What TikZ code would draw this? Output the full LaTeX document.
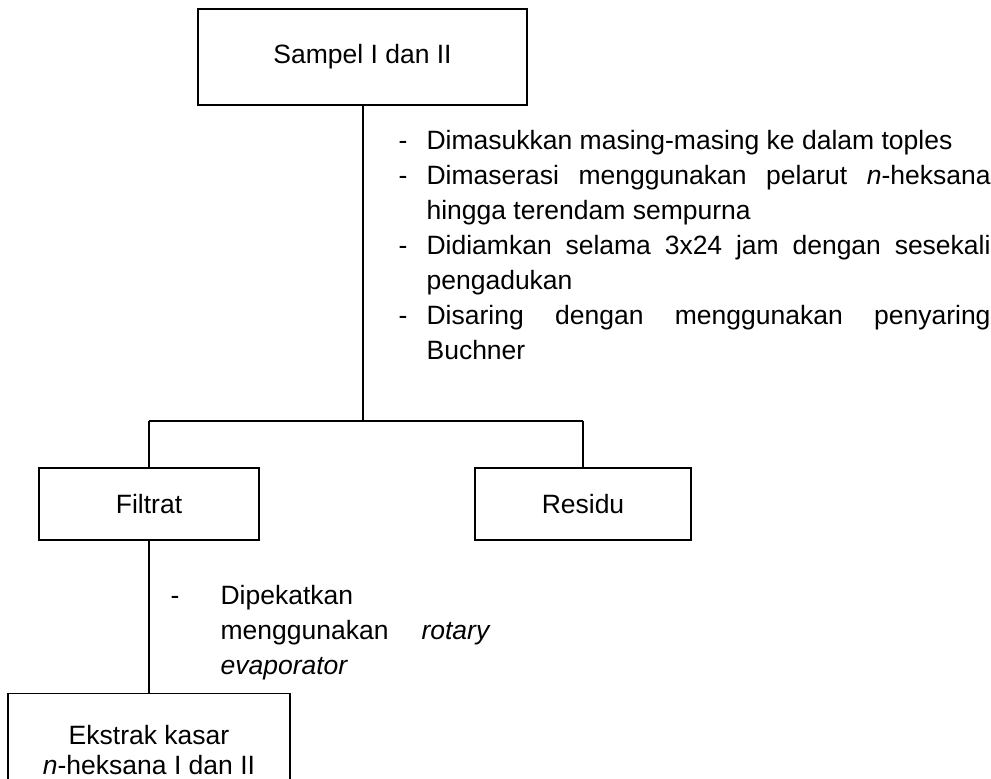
\documentclass[tikz,border=0pt]{standalone}
\usepackage{fontspec}
\setmainfont{Liberation Sans}
\begin{document}
\begin{tikzpicture}[x=1pt,y=-1pt,line width=1.2pt,
  box/.style={draw,rectangle,inner sep=0pt,align=center,
    font=\fontsize{26.5}{30}\selectfont},
  note/.style={inner sep=0pt,align=justify,
    font=\fontsize{26.5}{35}\selectfont},
  conn/.style={draw,line width=1.2pt}]
\useasboundingbox (0,0) rectangle (991,779);
% boxes
\node[box,minimum width=329pt,minimum height=96pt] (sampel) at (362.5,57) {Sampel I dan II};
\node[box,minimum width=220pt,minimum height=72pt] (filtrat) at (149,504) {Filtrat};
\node[box,minimum width=216pt,minimum height=72pt] (residu) at (583,504) {Residu};
\node[box,minimum width=282pt,minimum height=112pt,anchor=north] (ekstrak) at (149,693)
  {Ekstrak kasar\\\textit{n}-heksana I dan II};
% junction
\coordinate (j) at (363,421);
\coordinate (jl) at (filtrat.north |- j);
\coordinate (jr) at (residu.north |- j);
\draw[conn] (sampel.south -| j) -- (j);
\draw[conn] (jl) -- (jr);
\draw[conn] (jl) -- (filtrat.north);
\draw[conn] (jr) -- (residu.north);
\draw[conn] (filtrat.south) -- (ekstrak.north);
% notes
\node[note,text width=592pt,anchor=base west] (steps) at (398,149) {%
\tolerance=9999\hyphenpenalty=10000\exhyphenpenalty=10000
\noindent\hangindent=28pt\hangafter=1\makebox[28pt][l]{-}Dimasukkan masing-masing ke dalam toples\par
\noindent\hangindent=28pt\hangafter=1\makebox[28pt][l]{-}Dimaserasi menggunakan pelarut \textit{n}-heksana\linebreak hingga terendam sempurna\par
\noindent\hangindent=28pt\hangafter=1\makebox[28pt][l]{-}Didiamkan selama 3x24 jam dengan sesekali\linebreak pengadukan\par
\noindent\hangindent=28pt\hangafter=1\makebox[28pt][l]{-}Disaring dengan menggunakan penyaring\linebreak Buchner\par};
\node[note,text width=320pt,anchor=base west] (pekat) at (170,604) {%
\tolerance=9999\hyphenpenalty=10000\exhyphenpenalty=10000
\noindent\hangindent=50pt\hangafter=1\makebox[50pt][l]{-}Dipekatkan\\menggunakan \textit{rotary}\linebreak \textit{evaporator}\par};
\end{tikzpicture}
\end{document}
